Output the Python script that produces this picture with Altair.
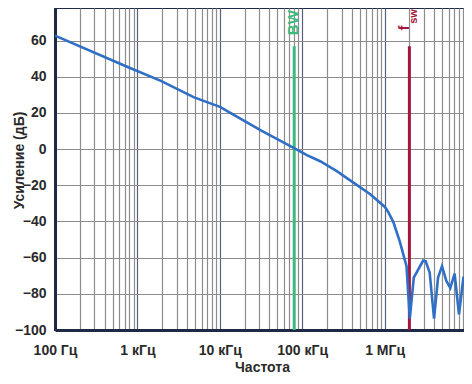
import altair as alt
import pandas as pd

# ---- data ----
freq = [100, 762, 1927, 4877, 10230, 12320, 31120, 76700, 114100, 165200,
        263000, 418500, 664000, 1009000, 1109000, 1274000, 1531000, 1845000,
        2023000, 2261000, 2937000, 3157000, 3527000, 3984000, 4454000,
        4978000, 5611000, 6274000, 7075000, 7998000, 9080000]
gain = [62.7, 45.4, 37.7, 28.6, 23.2, 21.0, 10.5, 0.9, -3.3, -6.7,
        -12.2, -18.5, -24.8, -32.0, -34.8, -40.2, -51.1, -64.7,
        -93.7, -71.0, -61.6, -62.0, -68.3, -93.7, -71.0,
        -64.7, -72.8, -76.8, -68.9, -91.3, -70.5]

marker_freq = [80000, 2000000]
marker_top = [56.8, 56.8]
marker_bottom = [-100, -100]
marker_color = ["#3dba7e", "#a3173f"]

label_text = ["BW", "f", "sw"]
label_freq = [80000, 2000000, 2000000]
label_gain = [69.9, 66.9, 73.3]
label_color = ["#3dba7e", "#a3173f", "#a3173f"]
label_size = [15, 15, 11]
label_dy = [-1, -5, 4.5]

decades = [100, 1000, 10000, 100000, 1000000]
decade_labels = ["100 Гц", "1 кГц", "10 кГц", "100 кГц", "1 МГц"]
y_ticks = [-100, -80, -60, -40, -20, 0, 20, 40, 60]

FONT = "Liberation Sans, Arial, sans-serif"
AXIS_COL = "#1e2a45"
TEXT_COL = "#2a2a2a"

grid_vals = [m * d for d in decades for m in range(1, 10)]
label_expr = "".join(
    f"datum.value == {d} ? '{t}' : " for d, t in zip(decades, decade_labels)
) + "''"

curve = pd.DataFrame({"f": freq, "g": gain})
markers = pd.DataFrame({"f": marker_freq, "top": marker_top,
                        "bot": marker_bottom, "c": marker_color})

xscale = alt.Scale(type="log", domain=[100, 9.2e6], nice=False)
yscale = alt.Scale(domain=[-100, 78], nice=False)

decade_test = "abs(log(datum.value)/LN10 - round(log(datum.value)/LN10)) < 0.000001"

xaxis = alt.Axis(
    values=grid_vals, labelExpr=label_expr, title="Частота",
    grid=True,
    gridColor={"condition": {"test": decade_test, "value": "#58627c"}, "value": "#8c8c8c"},
    gridWidth=1.2, ticks=False, labelPadding=13, labelFontSize=14,
    labelFont=FONT, labelFontWeight="bold", labelColor=TEXT_COL,
    labelFlush=False, labelOverlap=False,
    titleFont=FONT, titleFontSize=14, titleFontWeight="bold", titleColor=TEXT_COL,
    titleX=207, titleY=41, titleAlign="center", titleBaseline="alphabetic",
    domainColor=AXIS_COL, domainWidth=3,
)
yaxis = alt.Axis(
    values=y_ticks, title="Усиление (дБ)", grid=True, gridColor="#8c8c8c",
    gridWidth=1.2, ticks=False, labelPadding=9, labelFontSize=14,
    labelFont=FONT, labelFontWeight="bold", labelColor=TEXT_COL,
    labelExpr="replace(format(datum.value, 'd'), '-', '−')",
    titleFont=FONT, titleFontSize=14, titleFontWeight="bold", titleColor=TEXT_COL,
    titleAngle=270, titleX=-32, titleY=152, titleAlign="center",
    titleBaseline="alphabetic",
    domainColor=AXIS_COL, domainWidth=3,
)

line = alt.Chart(curve).mark_line(color="#2f6fc6", strokeWidth=2.6, clip=True).encode(
    x=alt.X("f:Q", scale=xscale, axis=xaxis),
    y=alt.Y("g:Q", scale=yscale, axis=yaxis),
)

rules = alt.Chart(markers).mark_rule(strokeWidth=3).encode(
    x=alt.X("f:Q", scale=xscale),
    y=alt.Y("bot:Q", scale=yscale),
    y2="top:Q",
    color=alt.Color("c:N", scale=None, legend=None),
)

text_layers = []
for t, f, g, c, s, d in zip(label_text, label_freq, label_gain,
                            label_color, label_size, label_dy):
    df = pd.DataFrame({"f": [f], "g": [g], "t": [t]})
    text_layers.append(
        alt.Chart(df).mark_text(
            angle=270, align="center", baseline="middle", font=FONT,
            fontWeight="bold", fontSize=s, color=c, dy=d,
        ).encode(
            x=alt.X("f:Q", scale=xscale),
            y=alt.Y("g:Q", scale=yscale),
            text="t:N",
        )
    )

chart = alt.layer(rules, line, *text_layers).properties(
    width=409, height=322,
    padding={"left": 47, "top": 0, "right": 0, "bottom": 44},
    autosize="none", background="white",
).configure_view(stroke=AXIS_COL, strokeWidth=2)

chart.save("out.html", embed_options={"renderer": "svg", "actions": False})
